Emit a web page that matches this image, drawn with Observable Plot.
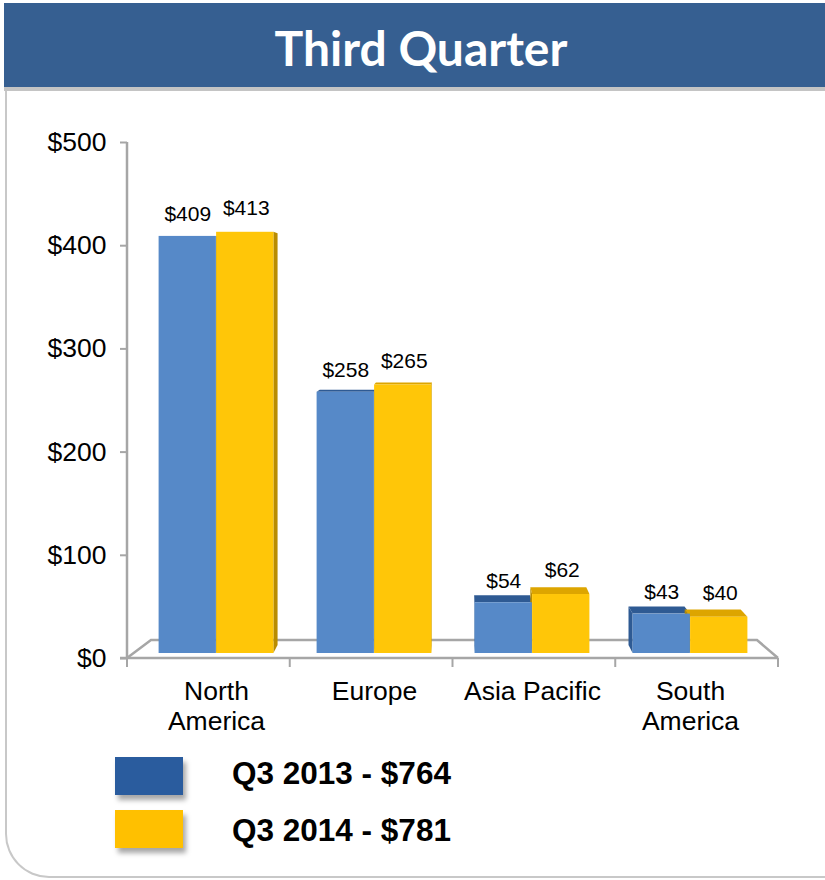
<!DOCTYPE html>
<html>
<head>
<meta charset="utf-8">
<script src="https://cdn.jsdelivr.net/npm/d3@7"></script>
<script src="https://cdn.jsdelivr.net/npm/@observablehq/plot@0.6"></script>
<style>
  html, body { margin: 0; padding: 0; background: #fff; }
  #page { position: relative; width: 825px; height: 880px; overflow: hidden; font-family: "Liberation Sans", Arial, sans-serif; }
  #banner { position: absolute; left: 4px; top: 3px; width: 830px; height: 84px; background: #365F91;
            border-bottom: 4px solid #C4C4C4; }
  #title { position: absolute; left: 0; width: 842px; top: 18px; text-align: center; color: #fff;
           font-family: Lato, "Open Sans", sans-serif; font-weight: 700; font-size: 48px; line-height: 60px; }
  #box { position: absolute; left: 5px; top: 91px; width: 900px; height: 785px; border-left: 2px solid #C8C8C8;
         border-bottom: 2px solid #C8C8C8; border-bottom-left-radius: 44px; }
  #chart { position: absolute; left: 0; top: 100px; }
  .sw { position: absolute; left: 115px; width: 68px; height: 38px; box-shadow: 3px 5px 5px rgba(0,0,0,0.35); }
  .lt { position: absolute; left: 232px; font-weight: 700; font-size: 31.5px; line-height: 36px; color: #000; }
</style>
</head>
<body>
<div id="page">
  <div id="banner"></div>
  <div id="title">Third Quarter</div>
  <div id="box"></div>
  <div id="chart"></div>
  <div id="legend"></div>
</div>
<script>
// ---- data ----
const regions = ["North America", "Europe", "Asia Pacific", "South America"];
const regionLabels = ["North\nAmerica", "Europe", "Asia Pacific", "South\nAmerica"];
const q3_2013 = [409, 258, 54, 43];
const q3_2014 = [413, 265, 62, 40];
const yTicks = [0, 100, 200, 300, 400, 500];
const seriesLabels = ["Q3 2013 - $764", "Q3 2014 - $781"];
const seriesColors = ["#2A5C9E", "#FFC000"];

// ---- styling constants ----
const BLUE = "#5689C8", YELLOW = "#FFC608";
const BLUE_DARK = "#2E5A93", YELLOW_TOP = "#DDA500", YELLOW_SIDE = "#B98C00";
const OUT = 21.6, IN = 79.1;         // bar insets within each band (px)
const LIFT = 5;                      // bars sit slightly behind floor front
const VX = 455, VY = 200, DEPTH = 0.023; // perspective for 3D faces

const rows2013 = regions.map((r, i) => ({region: r, value: q3_2013[i]}));
const rows2014 = regions.map((r, i) => ({region: r, value: q3_2014[i]}));

function el(name, attrs) {
  const e = document.createElementNS("http://www.w3.org/2000/svg", name);
  for (const k in attrs) e.setAttribute(k, attrs[k]);
  return e;
}

// decorations: floor, axis lines, boundary ticks, 3D bar faces (all from scales/dimensions)
function decorations(index, scales, values, dim) {
  const g = el("g", {});
  const x0 = dim.marginLeft, x1 = dim.width - dim.marginRight;
  const y0 = scales.y(0), yTop = scales.y(500);
  const gray = "#A6A6A6";
  g.appendChild(el("polyline", {points: `${x0},${y0} ${x0 + 24},${y0 - 18} ${x1 - 21},${y0 - 18} ${x1},${y0}`,
    fill: "none", stroke: gray, "stroke-width": 2.5}));
  g.appendChild(el("line", {x1: x0, x2: x0, y1: yTop, y2: y0 + 1, stroke: gray, "stroke-width": 2.5}));
  g.appendChild(el("line", {x1: x0 - 7, x2: x1, y1: y0, y2: y0, stroke: gray, "stroke-width": 2.5}));
  for (let i = 0; i <= regions.length; i++) {
    const xt = x0 + i * (x1 - x0) / regions.length;
    g.appendChild(el("line", {x1: xt, x2: xt, y1: y0, y2: y0 + 9, stroke: gray, "stroke-width": 2}));
  }
  const bw = scales.x.bandwidth ? scales.x.bandwidth() : (x1 - x0) / regions.length;
  const series = [[q3_2013, OUT, bw - IN, BLUE_DARK, BLUE_DARK], [q3_2014, IN, bw - OUT, YELLOW_TOP, YELLOW_SIDE]];
  const proj = (x, y) => [x + DEPTH * (VX - x), y + DEPTH * (VY - y)];
  regions.forEach((r, i) => {
    series.forEach(([vals, a, b, topC, sideC]) => {
      const left = scales.x(r) + a;
      const right = scales.x(r) + b;
      const yt = scales.y(vals[i]), yb = y0 - LIFT;
      if (right < VX) {
        const [bx, by] = proj(right, yb), [tx, ty] = proj(right, yt);
        g.appendChild(el("polygon", {points: `${right},${yt} ${right},${yb} ${bx},${by} ${tx},${ty}`, fill: sideC}));
      }
      if (left > VX) {
        const [bx, by] = proj(left, yb), [tx, ty] = proj(left, yt);
        g.appendChild(el("polygon", {points: `${left},${yt} ${left},${yb} ${bx},${by} ${tx},${ty}`, fill: sideC}));
      }
      if (yt > VY) {
        const [lx, ly] = proj(left, yt), [rx, ry] = proj(right, yt);
        g.appendChild(el("polygon", {points: `${left},${yt} ${right},${yt} ${rx},${ry} ${lx},${ly}`, fill: topC}));
      }
    });
  });
  return g;
}

const chart = Plot.plot({
  width: 825,
  height: 640,
  marginLeft: 127,
  marginRight: 47,
  marginTop: 42,
  marginBottom: 82,
  style: {fontFamily: "'Liberation Sans', Arial, sans-serif", background: "transparent", color: "#000"},
  x: {type: "band", domain: regions, paddingInner: 0, paddingOuter: 0.0575, align: 0.516, axis: null},
  y: {domain: [0, 500], axis: null},
  marks: [
    decorations,
    Plot.barY(rows2013, {x: "region", y: "value", fill: BLUE, insetLeft: OUT, insetRight: IN, insetBottom: LIFT}),
    Plot.barY(rows2014, {x: "region", y: "value", fill: YELLOW, insetLeft: IN, insetRight: OUT, insetBottom: LIFT}),
    Plot.text(rows2013, {x: "region", y: "value", text: d => "$" + d.value, dx: -(IN - OUT) / 2, dy: -22, fontSize: 21, fill: "#000"}),
    Plot.text(rows2014, {x: "region", y: "value", text: d => "$" + d.value, dx: (IN - OUT) / 2 + 1, dy: -24, fontSize: 21, fill: "#000"}),
    Plot.axisY({ticks: yTicks, tickFormat: d => "$" + d, tickSize: 7, tickPadding: 14, fontSize: 26.5,
                stroke: "#A6A6A6", strokeWidth: 2, fill: "#000", label: null}),
    Plot.axisX({tickSize: 0, tickPadding: 20, fontSize: 26.5, lineHeight: 1.13, fill: "#000", label: null,
                tickFormat: d => regionLabels[regions.indexOf(d)]})
  ]
});
document.getElementById("chart").appendChild(chart);

// legend
const legend = document.getElementById("legend");
const swTop = [757, 810], textTop = [755, 812];
seriesLabels.forEach((lab, i) => {
  const sw = document.createElement("div");
  sw.className = "sw"; sw.style.top = swTop[i] + "px"; sw.style.background = seriesColors[i];
  legend.appendChild(sw);
  const t = document.createElement("div");
  t.className = "lt"; t.style.top = textTop[i] + "px"; t.textContent = lab;
  legend.appendChild(t);
});
</script>
</body>
</html>
